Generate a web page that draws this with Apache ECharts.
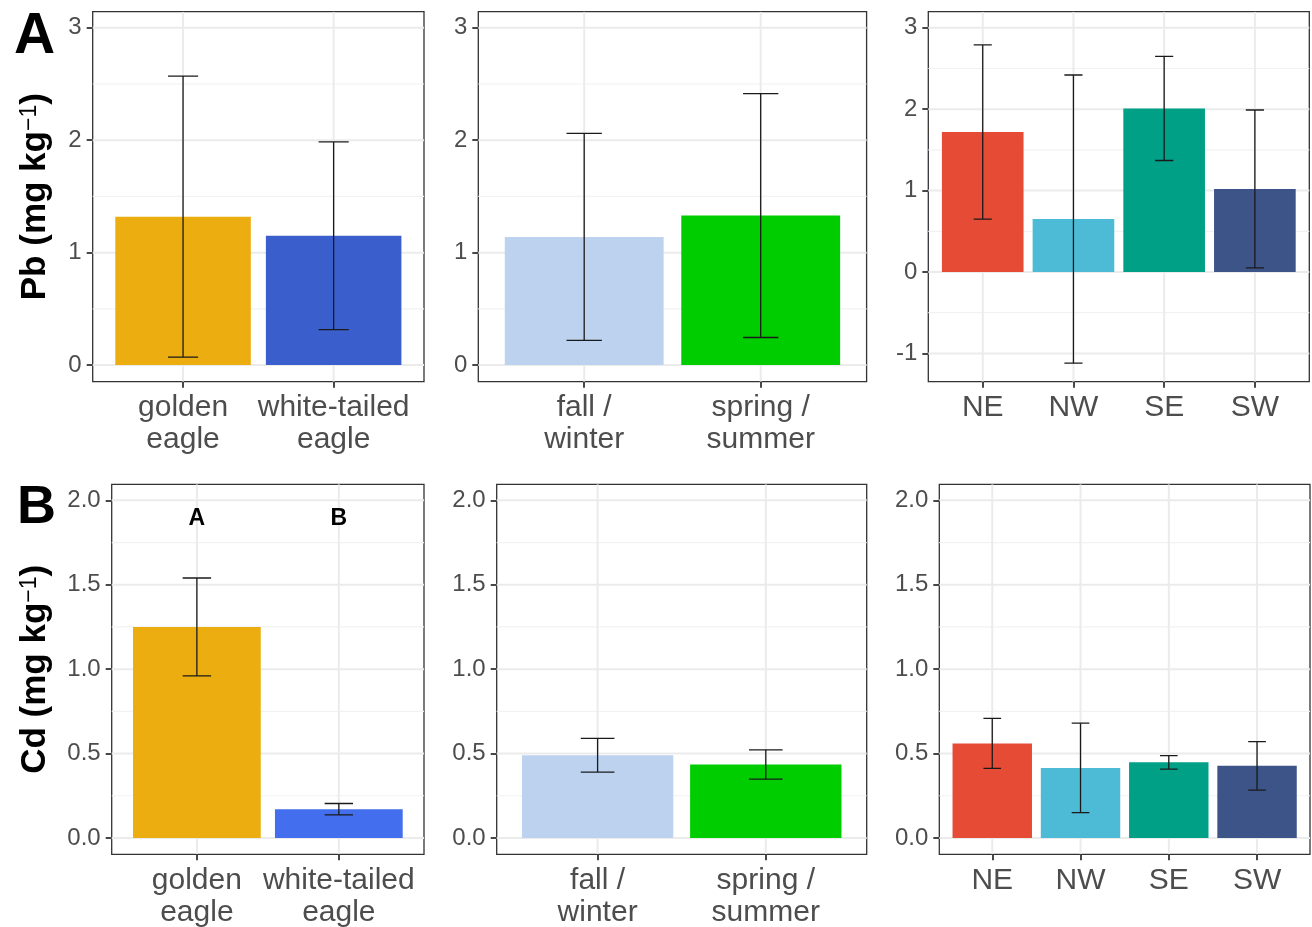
<!DOCTYPE html>
<html><head><meta charset="utf-8">
<script src="https://cdn.jsdelivr.net/npm/echarts@6/dist/echarts.min.js"></script>
<style>html,body{margin:0;padding:0;background:#fff}#c{width:1312px;height:927px}</style>
</head><body><div id="c"></div>
<script>
// ---- categories ----
const speciesCats = ['golden\neagle', 'white-tailed\neagle'];
const seasonCats = ['fall /\nwinter', 'spring /\nsummer'];
const regionCats = ['NE', 'NW', 'SE', 'SW'];

// ---- Pb (row A) means and error half-widths ----
const pbSpeciesMean = [1.32, 1.15];
const pbSpeciesErr = [1.25, 0.835];
const pbSeasonMean = [1.14, 1.33];
const pbSeasonErr = [0.92, 1.085];
const pbRegionMean = [1.72, 0.65, 2.01, 1.02];
const pbRegionErr = [1.07, 1.77, 0.64, 0.97];

// ---- Cd (row B) ----
const cdSpeciesMean = [1.25, 0.17];
const cdSpeciesErr = [0.29, 0.034];
const cdSeasonMean = [0.49, 0.435];
const cdSeasonErr = [0.10, 0.087];
const cdRegionMean = [0.56, 0.415, 0.448, 0.427];
const cdRegionErr = [0.148, 0.265, 0.04, 0.144];

// significance letters (row B, species)
const cdSpeciesLetters = ['A', 'B'];
const cdLetterY = 1.89;

// ---- tick labels ----
const pbTicks = [0, 1, 2, 3];
const pbMinor = [0.5, 1.5, 2.5];
const pbRegionTicks = [-1, 0, 1, 2, 3];
const pbRegionMinor = [-0.5, 0.5, 1.5, 2.5];
const cdTicks = [0, 0.5, 1.0, 1.5, 2.0];
const cdMinor = [0.25, 0.75, 1.25, 1.75];

// ---- colours ----
const speciesColorsA = ['#ECAD10', '#3A5FCD'];
const speciesColorsB = ['#ECAD10', '#436EEE'];
const seasonColors = ['#BCD2EE', '#00CD00'];
const regionColors = ['#E64B35', '#4DBBD5', '#00A087', '#3C5488'];

const FONT = '"Liberation Sans", Arial, sans-serif';

const panels = [
  {rect:[92.7, 11.7, 331.3, 370], cats:speciesCats, mean:pbSpeciesMean, err:pbSpeciesErr, colors:speciesColorsA,
   ymin:-0.148, ymax:3.143, ticks:pbTicks, minor:pbMinor, fmt:v=>String(v), name:'{t|Pb (mg kg}{s|−1}{t|)}', nameGap:40},
  {rect:[478.3, 11.7, 388.3, 370], cats:seasonCats, mean:pbSeasonMean, err:pbSeasonErr, colors:seasonColors,
   ymin:-0.148, ymax:3.143, ticks:pbTicks, minor:pbMinor, fmt:v=>String(v)},
  {rect:[928.3, 11.7, 381, 370], cats:regionCats, mean:pbRegionMean, err:pbRegionErr, colors:regionColors,
   ymin:-1.348, ymax:3.198, ticks:pbRegionTicks, minor:pbRegionMinor, fmt:v=>String(v)},
  {rect:[111.7, 484.3, 312.3, 370], cats:speciesCats, mean:cdSpeciesMean, err:cdSpeciesErr, colors:speciesColorsB,
   ymin:-0.097, ymax:2.095, ticks:cdTicks, minor:cdMinor, fmt:v=>v.toFixed(1), name:'{t|Cd (mg kg}{s|−1}{t|)}', nameGap:59,
   letters:cdSpeciesLetters, letterY:cdLetterY},
  {rect:[496.7, 484.3, 370, 370], cats:seasonCats, mean:cdSeasonMean, err:cdSeasonErr, colors:seasonColors,
   ymin:-0.097, ymax:2.095, ticks:cdTicks, minor:cdMinor, fmt:v=>v.toFixed(1)},
  {rect:[939.3, 484.3, 370.7, 370], cats:regionCats, mean:cdRegionMean, err:cdRegionErr, colors:regionColors,
   ymin:-0.097, ymax:2.095, ticks:cdTicks, minor:cdMinor, fmt:v=>v.toFixed(1)}
];

function renderGridLines(params, api){
  const cs = params.coordSys;
  const o = api.value(0), v = api.value(1), major = api.value(2);
  const style = {stroke: major ? '#EBEBEB' : '#F2F2F2', lineWidth: major ? 2 : 1.2};
  if (o === 0) {
    const y = api.coord([1, v])[1];
    return {type:'line', shape:{x1:cs.x, y1:y, x2:cs.x+cs.width, y2:y}, style};
  }
  const x = api.coord([v, 0])[0];
  return {type:'line', shape:{x1:x, y1:cs.y, x2:x, y2:cs.y+cs.height}, style};
}
function makeBarRenderer(colors){
  return function(params, api){
    const x = api.value(0), v = api.value(1);
    const p0 = api.coord([x-0.45, v]), p1 = api.coord([x+0.45, 0]);
    return {type:'rect', shape:{x:p0[0], y:Math.min(p0[1],p1[1]), width:p1[0]-p0[0], height:Math.abs(p1[1]-p0[1])},
      style:{fill:colors[params.dataIndex]}};
  };
}
function renderErr(params, api){
  const x = api.value(0), v = api.value(1), e = api.value(2);
  const t = api.coord([x, v+e]), b = api.coord([x, v-e]);
  const tl = api.coord([x-0.1, v+e]), tr = api.coord([x+0.1, v+e]);
  const bl = api.coord([x-0.1, v-e]), br = api.coord([x+0.1, v-e]);
  const st = {stroke:'#1a1a1a', lineWidth:1.3};
  return {type:'group', children:[
    {type:'line', shape:{x1:t[0], y1:t[1], x2:b[0], y2:b[1]}, style:st},
    {type:'line', shape:{x1:tl[0], y1:tl[1], x2:tr[0], y2:tr[1]}, style:st},
    {type:'line', shape:{x1:bl[0], y1:bl[1], x2:br[0], y2:br[1]}, style:st}
  ]};
}
function makeLetterRenderer(letters){
  return function(params, api){
    const p = api.coord([api.value(0), api.value(1)]);
    return {type:'text', x:p[0], y:p[1], style:{text:letters[params.dataIndex], textAlign:'center', textVerticalAlign:'middle',
      font:'bold 23px ' + FONT, fill:'#000'}};
  };
}

const grid = [], xAxis = [], yAxis = [], series = [];
panels.forEach((p, k) => {
  const n = p.cats.length;
  const idx = p.cats.map((c, i) => i + 1);
  grid.push({left:p.rect[0], top:p.rect[1], width:p.rect[2], height:p.rect[3], show:true,
    borderColor:'#333333', borderWidth:1.3, backgroundColor:'#ffffff', containLabel:false, outerBoundsMode:'none'});
  xAxis.push({gridIndex:k, type:'value', min:0.4, max:n+0.6,
    axisLine:{show:false, onZero:false}, splitLine:{show:false},
    axisTick:{show:true, customValues:idx, length:6, lineStyle:{color:'#333333', width:1.8}},
    axisLabel:{show:true, customValues:idx, formatter:(v)=>p.cats[Math.round(v)-1], fontSize:30, lineHeight:32,
      color:'#4D4D4D', fontFamily:FONT, margin:10}});
  const ya = {gridIndex:k, type:'value', min:p.ymin, max:p.ymax,
    axisLine:{show:false, onZero:false}, splitLine:{show:false},
    axisTick:{show:true, customValues:p.ticks, length:6, lineStyle:{color:'#333333', width:1.8}},
    axisLabel:{show:true, customValues:p.ticks, formatter:p.fmt, fontSize:24, color:'#4D4D4D', fontFamily:FONT, margin:11}};
  if (p.name) {
    Object.assign(ya, {name:p.name, nameLocation:'middle', nameRotate:90, nameGap:p.nameGap, nameMoveOverlap:false,
      nameTextStyle:{rich:{
        t:{fontSize:35, fontWeight:'bold', color:'#000', fontFamily:FONT},
        s:{fontSize:23, color:'#000', fontFamily:FONT, verticalAlign:'top'}
      }}});
  }
  yAxis.push(ya);
  const gl = [];
  p.ticks.forEach(v => gl.push([0, v, 1]));
  p.minor.forEach(v => gl.push([0, v, 0]));
  idx.forEach(v => gl.push([1, v, 1]));
  series.push({type:'custom', xAxisIndex:k, yAxisIndex:k, silent:true, z:1, clip:true, renderItem:renderGridLines, data:gl});
  series.push({type:'custom', xAxisIndex:k, yAxisIndex:k, silent:true, z:2, clip:true,
    renderItem:makeBarRenderer(p.colors), data:p.mean.map((v,i)=>[i+1, v])});
  series.push({type:'custom', xAxisIndex:k, yAxisIndex:k, silent:true, z:3, clip:true,
    renderItem:renderErr, data:p.mean.map((v,i)=>[i+1, v, p.err[i]])});
  if (p.letters) {
    series.push({type:'custom', xAxisIndex:k, yAxisIndex:k, silent:true, z:4,
      renderItem:makeLetterRenderer(p.letters), data:p.letters.map((l,i)=>[i+1, p.letterY])});
  }
});

const chart = echarts.init(document.getElementById('c'), null, {renderer:'canvas'});
chart.setOption({
  animation:false,
  backgroundColor:'#ffffff',
  textStyle:{fontFamily:FONT},
  grid, xAxis, yAxis, series,
  graphic:[
    {type:'text', left:14, top:9, style:{text:'A', font:'bold 57px ' + FONT, fill:'#000'}},
    {type:'text', left:17, top:481, style:{text:'B', font:'bold 54px ' + FONT, fill:'#000'}}
  ]
});
</script></body></html>
